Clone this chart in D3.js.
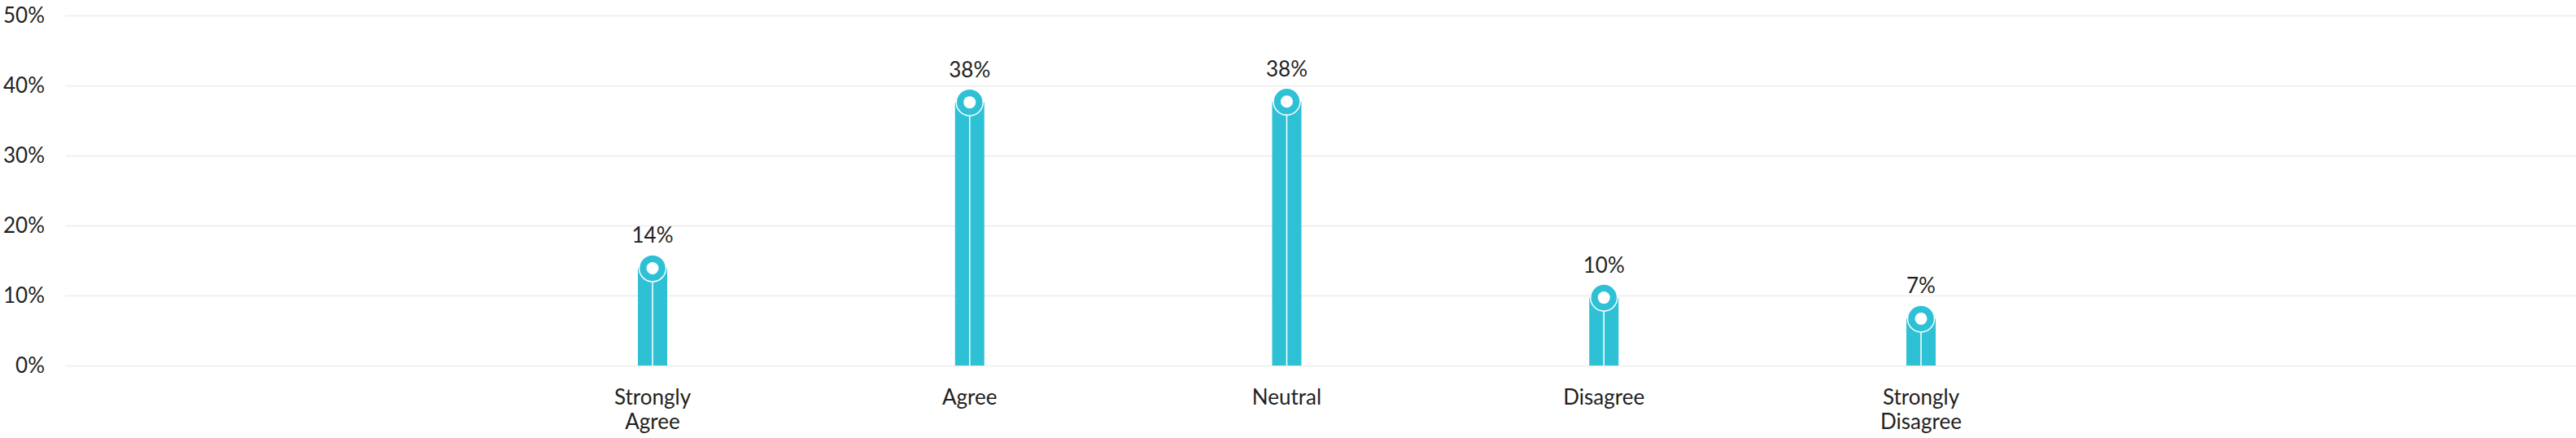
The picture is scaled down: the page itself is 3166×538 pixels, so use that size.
<!DOCTYPE html>
<html>
<head>
<meta charset="utf-8">
<script src="https://cdn.jsdelivr.net/npm/d3@7"></script>
<style>
  body { margin: 0; background: #fff; }
  text { font-family: Lato, "Open Sans", sans-serif; fill: #231f20; }
</style>
</head>
<body>
<svg id="chart" width="3166" height="538"></svg>
<script>
// Survey answers, percent of respondents
const categories = ["Strongly Agree", "Agree", "Neutral", "Disagree", "Strongly Disagree"];
const values = [13.9, 37.6, 37.7, 9.7, 6.7];
const yTicks = [0, 10, 20, 30, 40, 50];

const W = 3166, H = 538;
const plotLeft = 80, plotRight = W;
const barColor = "#2ec1d6";
const barWidth = 36, pinR = 16.5, holeR = 7.5;
const fontSize = 26;

const svg = d3.select("#chart");

const y = d3.scaleLinear().domain([0, 50]).range([449, 19]);
const x = d3.scalePoint().domain(categories).range([802, 2361]);

// Grid + y labels
const yAxis = svg.append("g")
    .attr("transform", `translate(${plotLeft},0)`)
    .call(d3.axisLeft(y)
        .tickValues(yTicks)
        .tickSize(-(plotRight - plotLeft))
        .tickPadding(25)
        .tickFormat(d => d + "%"));

yAxis.select(".domain").remove();
yAxis.selectAll(".tick line").attr("stroke", "#ececec").attr("stroke-width", 1.5);
yAxis.selectAll(".tick text")
    .attr("font-size", fontSize)
    .attr("fill", "#231f20")
    .attr("font-family", "Lato, 'Open Sans', sans-serif");

// Pins
const data = categories.map((c, i) => ({ cat: c, value: values[i] }));

const pins = svg.append("g").selectAll("g.pin")
    .data(data)
    .enter()
    .append("g")
    .attr("class", "pin");

pins.append("rect")
    .attr("x", d => x(d.cat) - barWidth / 2)
    .attr("y", d => y(d.value))
    .attr("width", barWidth)
    .attr("height", d => y(0) - y(d.value))
    .attr("fill", barColor);

pins.append("line")
    .attr("x1", d => x(d.cat))
    .attr("x2", d => x(d.cat))
    .attr("y1", d => y(d.value) + pinR)
    .attr("y2", y(0))
    .attr("stroke", "#fff")
    .attr("stroke-width", 1.5);

pins.append("circle")
    .attr("cx", d => x(d.cat))
    .attr("cy", d => y(d.value))
    .attr("r", pinR)
    .attr("fill", barColor)
    .attr("stroke", "#fff")
    .attr("stroke-width", 1.5);

pins.append("circle")
    .attr("cx", d => x(d.cat))
    .attr("cy", d => y(d.value))
    .attr("r", holeR)
    .attr("fill", "#fff");

// Value labels
pins.append("text")
    .attr("x", d => x(d.cat))
    .attr("y", d => y(d.value) - 31)
    .attr("text-anchor", "middle")
    .attr("font-size", fontSize)
    .text(d => Math.round(d.value) + "%");

// Category labels
const catLabels = svg.append("g").selectAll("text")
    .data(categories)
    .enter()
    .append("text")
    .attr("text-anchor", "middle")
    .attr("font-size", fontSize)
    .attr("y", 497);

catLabels.selectAll("tspan")
    .data(d => d.split(" ").map(w => ({ w, cat: d })))
    .enter()
    .append("tspan")
    .attr("x", d => x(d.cat))
    .attr("dy", (d, i) => i === 0 ? 0 : 30)
    .text(d => d.w);
</script>
</body>
</html>
